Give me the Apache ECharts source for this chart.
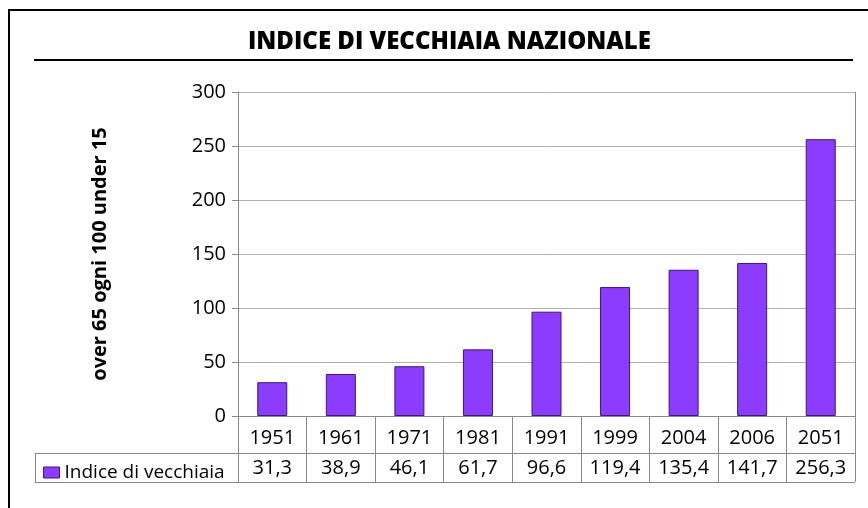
<!DOCTYPE html>
<html>
<head>
<meta charset="utf-8">
<script src="https://cdn.jsdelivr.net/npm/echarts@6/dist/echarts.min.js"></script>
<style>
  html, body { margin: 0; padding: 0; background: #fff; }
  #chart { width: 868px; height: 508px; }
</style>
</head>
<body>
<div id="chart"></div>
<script>
const years = ['1951', '1961', '1971', '1981', '1991', '1999', '2004', '2006', '2051'];
const indice = [31.3, 38.9, 46.1, 61.7, 96.6, 119.4, 135.4, 141.7, 256.3];
const seriesName = 'Indice di vecchiaia';
const yTicks = [0, 50, 100, 150, 200, 250, 300];

const txt = "'Open Sans', 'DejaVu Sans', sans-serif";
const chart = echarts.init(document.getElementById('chart'));

const option = {
  backgroundColor: '#fff',
  animation: false,
  title: {
    text: 'INDICE DI VECCHIAIA NAZIONALE',
    left: 243,
    top: 25,
    textStyle: {
      fontFamily: txt,
      fontWeight: 900,
      fontSize: 24,
      color: '#000'
    }
  },
  legend: {
    left: 38,
    top: 458,
    icon: 'rect',
    itemWidth: 16,
    itemHeight: 11,
    itemGap: 6,
    itemStyle: { borderColor: '#3a1680', borderWidth: 1 },
    textStyle: { fontFamily: txt, fontSize: 19, color: '#000' },
    data: [seriesName]
  },
  grid: { left: 238, right: 13, top: 92, bottom: 92 },
  xAxis: [
    {
      type: 'category',
      data: years,
      axisLine: { lineStyle: { color: '#888', width: 1 } },
      axisTick: { show: true, interval: 0, length: 66, lineStyle: { color: '#888' } },
      axisLabel: { interval: 0, margin: 12, fontFamily: txt, fontSize: 20, color: '#000' }
    },
    {
      type: 'category',
      position: 'bottom',
      offset: 30,
      data: indice.map(v => v.toFixed(1).replace('.', ',')),
      axisLine: { show: false },
      axisTick: { show: false },
      axisLabel: { interval: 0, margin: 12, fontFamily: txt, fontSize: 20, color: '#000' }
    }
  ],
  yAxis: {
    type: 'value',
    min: yTicks[0],
    max: yTicks[yTicks.length - 1],
    interval: 50,
    name: 'over 65 ogni 100 under 15',
    nameLocation: 'middle',
    nameGap: 128,
    nameRotate: 90,
    nameTextStyle: { fontFamily: txt, fontWeight: 'bold', fontSize: 20, color: '#000' },
    axisLine: { show: true, lineStyle: { color: '#888' } },
    axisTick: { show: true, length: 6, lineStyle: { color: '#888' } },
    axisLabel: { margin: 12, fontFamily: txt, fontSize: 20, color: '#000' },
    splitLine: { lineStyle: { color: '#b0b0b0' } }
  },
  series: [{
    name: seriesName,
    type: 'bar',
    data: indice,
    barWidth: 30,
    itemStyle: { color: '#8b3cff', borderColor: '#3a1680', borderWidth: 1 }
  }],
  graphic: [
    { type: 'rect', shape: { x: 9, y: 10, width: 900, height: 600 }, style: { fill: null, stroke: '#000', lineWidth: 2 } },
    { type: 'line', shape: { x1: 34, y1: 60, x2: 853, y2: 60 }, style: { stroke: '#000', lineWidth: 2 } },
    { type: 'line', shape: { x1: 855.5, y1: 92, x2: 855.5, y2: 482 }, style: { stroke: '#888', lineWidth: 1 } },
    { type: 'line', shape: { x1: 35, y1: 453.5, x2: 855, y2: 453.5 }, style: { stroke: '#888', lineWidth: 1 } },
    { type: 'line', shape: { x1: 35, y1: 482.5, x2: 855, y2: 482.5 }, style: { stroke: '#888', lineWidth: 1 } },
    { type: 'line', shape: { x1: 35.5, y1: 453, x2: 35.5, y2: 482 }, style: { stroke: '#888', lineWidth: 1 } }
  ]
};

chart.setOption(option);
</script>
</body>
</html>
